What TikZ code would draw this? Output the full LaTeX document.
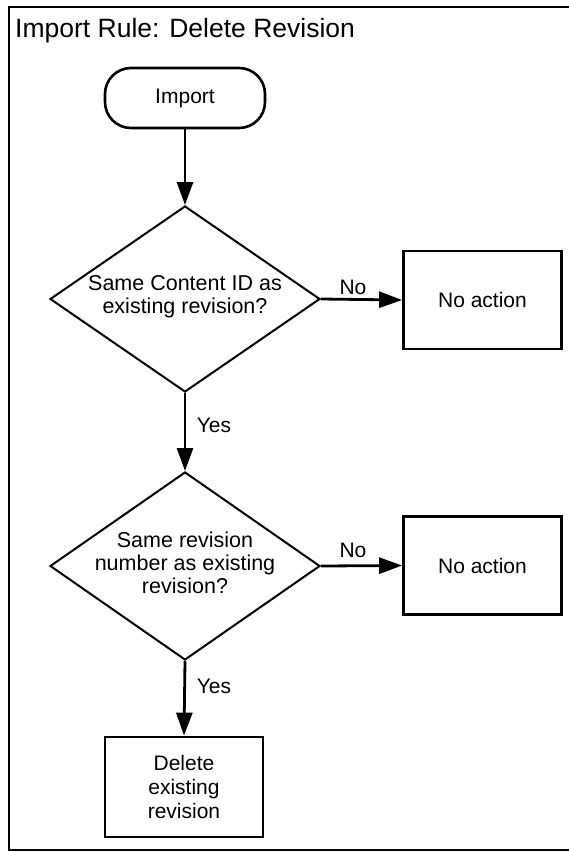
\documentclass[tikz,border=0pt]{standalone}
\usepackage{fontspec}
\setmainfont{Liberation Sans}
\usetikzlibrary{shapes.geometric,arrows.meta}
\begin{document}
\begin{tikzpicture}[x=1pt,y=-1pt,
  conn/.style={line width=2.8pt,-{Triangle[length=23pt,width=16pt]}},
  procbox/.style={draw,line width=2.8pt,minimum width=158pt,minimum height=98pt,inner sep=0pt,font=\fontsize{21}{24}\selectfont,align=center},
  decision/.style={draw,diamond,line width=2pt,minimum width=270pt,minimum height=186pt,inner sep=0pt},
  dtext/.style={font=\fontsize{21.5}{23}\selectfont,align=center,inner sep=0pt},
  lbl/.style={font=\fontsize{21}{24}\selectfont,inner sep=0pt},
  terminal/.style={draw,rounded corners=26pt,line width=2.6pt,minimum width=160pt,minimum height=60pt,inner sep=0pt,font=\fontsize{21}{24}\selectfont}
]
\useasboundingbox (0,0) rectangle (569,852);
% frame (right side lies beyond the picture)
\draw[line width=2pt] (569,7) -- (9,7) -- (9,850) -- (569,850);
\node[anchor=base west,inner sep=0pt,font=\fontsize{26.5}{29}\selectfont] (title) at (15,37) {Import Rule: Delete Revision};

\node[terminal] (term) at (185,98) {Import};

\node[decision] (d1) at (185,299) {};
\node[dtext] (d1t) at (185,297) {Same Content ID as\\existing revision?};
\node[procbox] (na1) at (482.5,300) {No action};

\node[decision,minimum height=188pt] (d2) at (185,566) {};
\node[dtext] (d2t) at (185,563) {Same revision\\number as existing\\revision?};
\node[procbox] (na2) at (482.5,565.5) {No action};

\node[procbox,minimum height=100pt] (del) at (184,787) {Delete\\existing\\revision};

\draw[conn] (term.south) -- (d1.north);
\draw[conn] (d1.east) -- (na1.west);
\draw[conn] (d1.south) -- (d2.north);
\draw[conn] (d2.east) -- (na2.west);
\draw[conn] (d2.south) -- (del.north);

\node[lbl] (no1) at (353,287) {No};
\node[lbl] (no2) at (353,550) {No};
\node[lbl] (yes1) at (214,425) {Yes};
\node[lbl] (yes2) at (214,686) {Yes};
\end{tikzpicture}
\end{document}
